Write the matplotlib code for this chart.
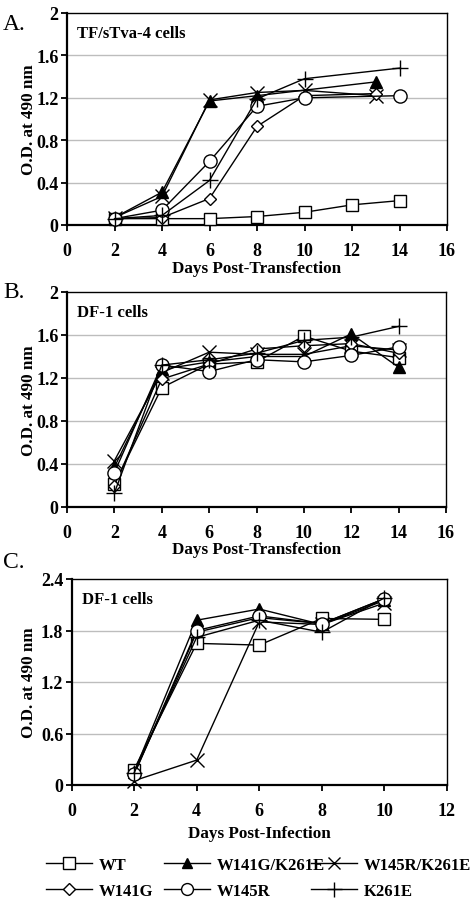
import matplotlib
matplotlib.use('Agg')
import matplotlib.pyplot as plt
from matplotlib.lines import Line2D
import numpy as np

plt.rcParams['font.family'] = ['Liberation Serif', 'DejaVu Serif']
plt.rcParams['font.weight'] = 'bold'

# ---- panel A: TF/sTva-4 cells, days post-transfection ----
a_days_wt = [2, 4, 6, 8, 10, 12, 14]
a_wt = [0.06, 0.06, 0.06, 0.08, 0.12, 0.19, 0.23]
a_days_tri = [2, 4, 6, 8, 13]
a_tri = [0.07, 0.31, 1.17, 1.22, 1.35]
a_days_x = [2, 4, 6, 8, 10, 13]
a_x = [0.07, 0.27, 1.18, 1.25, 1.27, 1.22]
a_days_dia = [2, 4, 6, 8, 10, 13]
a_dia = [0.06, 0.07, 0.25, 0.93, 1.22, 1.24]
a_days_circ = [2, 4, 6, 8, 10, 14]
a_circ = [0.06, 0.14, 0.60, 1.12, 1.20, 1.22]
a_days_plus = [2, 4, 6, 8, 10, 14]
a_plus = [0.06, 0.09, 0.42, 1.19, 1.38, 1.48]

# ---- panel B: DF-1 cells, days post-transfection ----
b_days = [2, 4, 6, 8, 10, 12, 14]
b_wt = [0.21, 1.11, 1.33, 1.35, 1.59, 1.45, 1.39]
b_tri = [0.37, 1.28, 1.35, 1.40, 1.40, 1.61, 1.30]
b_x = [0.43, 1.25, 1.44, 1.42, 1.42, 1.50, 1.46]
b_dia = [0.20, 1.19, 1.33, 1.47, 1.50, 1.52, 1.43]
b_circ = [0.32, 1.32, 1.26, 1.37, 1.35, 1.41, 1.49]
b_plus = [0.13, 1.32, 1.37, 1.43, 1.55, 1.58, 1.68]

# ---- panel C: DF-1 cells, days post-infection ----
c_days = [2, 4, 6, 8, 10]
c_wt = [0.18, 1.65, 1.63, 1.94, 1.93]
c_tri = [0.15, 1.92, 2.05, 1.87, 2.15]
c_x = [0.05, 0.29, 1.90, 1.87, 2.12]
c_dia = [0.12, 1.78, 1.95, 1.88, 2.17]
c_circ = [0.13, 1.80, 1.97, 1.88, 2.17]
c_plus = [0.14, 1.72, 1.92, 1.78, 2.18]

names = ['WT', 'W141G/K261E', 'W145R/K261E', 'W141G', 'W145R', 'K261E']
markers = ['s', '^', 'x', 'D', 'o', '+']
msizes = [9, 8, 10, 6.5, 9.5, 12]
fills = ['white', 'black', 'black', 'white', 'white', 'black']

fig = plt.figure(figsize=(4.73, 9.04), dpi=100)


def style(ax, xmax, ymax, ystep, xlabel, inner, xlab_y, ylab_x):
    ax.set_xlim(0, xmax)
    ax.set_ylim(0, ymax)
    ax.set_xticks(np.arange(0, xmax + 1, 2))
    yt = np.arange(0, ymax + 1e-6, ystep)
    ax.set_yticks(yt)
    ax.set_yticklabels(['0' if v == 0 else ('%g' % v if v != int(v) else '%d' % v) for v in yt])
    for v in yt[1:-1]:
        ax.axhline(v, color='#bdbdbd', lw=1.0, zorder=0)
    for s in ['left', 'bottom']:
        ax.spines[s].set_linewidth(1.6)
    for s in ['top', 'right']:
        ax.spines[s].set_linewidth(1.0)
    ax.tick_params(axis='x', direction='out', length=4, width=1.3, pad=8, labelsize=13)
    ax.tick_params(axis='y', direction='out', length=4, width=1.3, pad=2, labelsize=13)
    for lab in ax.get_xticklabels() + ax.get_yticklabels():
        lab.set_fontweight('bold')
    ax.set_xlabel(xlabel, fontsize=12.3, fontweight='bold')
    ax.set_ylabel('O.D. at 490 nm', fontsize=12.3, fontweight='bold')
    ax.xaxis.set_label_coords(0.5, xlab_y)
    ax.yaxis.set_label_coords(ylab_x, 0.5)
    ax.text(0.027, 0.905, inner, transform=ax.transAxes, fontsize=12,
            fontweight='bold', va='center', ha='left')


def plot_series(ax, days_list, vals_list):
    for d, v, m, ms, fc in zip(days_list, vals_list, markers, msizes, fills):
        ax.plot(d, v, color='black', lw=1.0, marker=m, markersize=ms,
                markerfacecolor=fc, markeredgecolor='black', markeredgewidth=1.0,
                clip_on=False, zorder=3)


axA = fig.add_axes([67 / 473, 1 - 226 / 904, 380 / 473, 212 / 904])
plot_series(axA, [a_days_wt, a_days_tri, a_days_x, a_days_dia, a_days_circ, a_days_plus],
            [a_wt, a_tri, a_x, a_dia, a_circ, a_plus])
style(axA, 16, 2, 0.4, 'Days Post-Transfection', 'TF/sTva-4 cells', -0.163, -0.08)

axB = fig.add_axes([67 / 473, 1 - 508 / 904, 379 / 473, 215 / 904])
plot_series(axB, [b_days] * 6, [b_wt, b_tri, b_x, b_dia, b_circ, b_plus])
style(axB, 16, 2, 0.4, 'Days Post-Transfection', 'DF-1 cells', -0.157, -0.08)

axC = fig.add_axes([71.5 / 473, 1 - 786 / 904, 375.5 / 473, 206 / 904])
plot_series(axC, [c_days] * 6, [c_wt, c_tri, c_x, c_dia, c_circ, c_plus])
style(axC, 12, 2.4, 0.6, 'Days Post-Infection', 'DF-1 cells', -0.192, -0.092)

fig.text(3 / 473, 1 - 24 / 904, 'A.', fontsize=17, fontweight='normal', va='center')
fig.text(3 / 473, 1 - 293 / 904, 'B.', fontsize=17, fontweight='normal', va='center')
fig.text(3 / 473, 1 - 562 / 904, 'C.', fontsize=17, fontweight='normal', va='center')

# legend, three columns placed by hand
handles = [Line2D([], [], color='black', lw=1.0, marker=m, markersize=ms * 0.9,
                  markerfacecolor=fc, markeredgecolor='black')
           for m, ms, fc in zip(markers, msizes, fills)]
cols = [(0, 3, 46), (1, 4, 164), (2, 5, 311)]
for i, j, x0 in cols:
    fig.legend([handles[i], handles[j]], [names[i], names[j]], loc='upper left',
               bbox_to_anchor=(x0 / 473, 1 - 858 / 904), frameon=False,
               prop={'family': 'Liberation Serif', 'weight': 'bold', 'size': 12},
               handlelength=2.75, handletextpad=0.4, labelspacing=0.6,
               borderpad=0, borderaxespad=0)

fig.savefig('out.png', dpi=100)
